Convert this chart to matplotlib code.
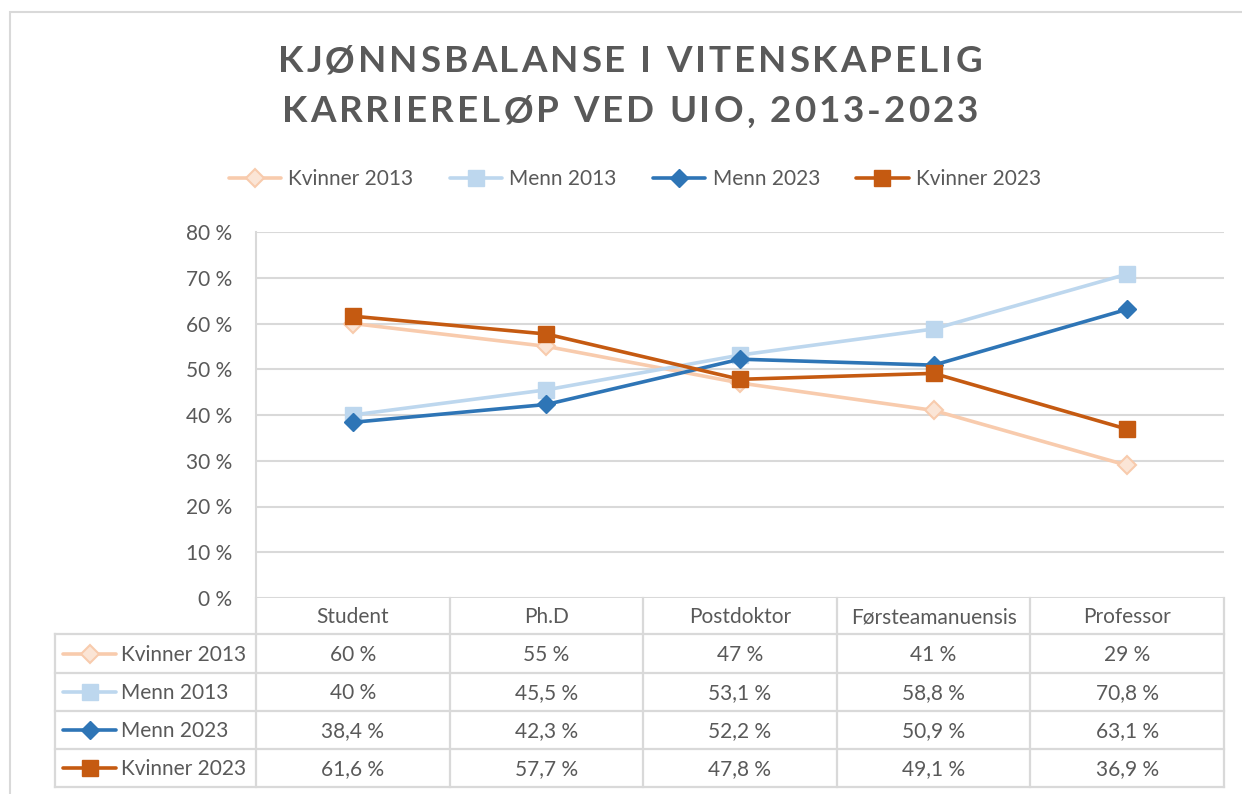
import matplotlib
matplotlib.use("Agg")
import matplotlib.pyplot as plt
from matplotlib.patches import Rectangle
from matplotlib.font_manager import FontProperties

# ---- data ----
categories = ["Student", "Ph.D", "Postdoktor", "Førsteamanuensis", "Professor"]
series_names = ["Kvinner 2013", "Menn 2013", "Menn 2023", "Kvinner 2023"]
kvinner_2013 = [60, 55, 47, 41, 29]
menn_2013 = [40, 45.5, 53.1, 58.8, 70.8]
menn_2023 = [38.4, 42.3, 52.2, 50.9, 63.1]
kvinner_2023 = [61.6, 57.7, 47.8, 49.1, 36.9]
y_ticks = [0, 10, 20, 30, 40, 50, 60, 70, 80]
title_lines = ["KJØNNSBALANSE I VITENSKAPELIG", "KARRIERELØP VED UIO, 2013-2023"]

series_values = [kvinner_2013, menn_2013, menn_2023, kvinner_2023]
styles = [
    dict(color="#F8CBAD", marker="D", mfc="#FBE5D6", mec="#F8CBAD", ms=9.5, mew=1.5),
    dict(color="#BDD7EE", marker="s", mfc="#BDD7EE", mec="#BDD7EE", ms=11),
    dict(color="#2E75B6", marker="D", mfc="#2E75B6", mec="#2E75B6", ms=9.5),
    dict(color="#C55A11", marker="s", mfc="#C55A11", mec="#C55A11", ms=11),
]

W, H = 1242, 794
TXT = "#595959"
GRID = "#D9D9D9"
FONT = "Lato"
FS = 15
plt.rcParams["font.family"] = [FONT, "DejaVu Sans"]

fig = plt.figure(figsize=(W / 100, H / 100), dpi=100)
fig.patch.set_facecolor("white")

# outer chart border
fig.add_artist(Rectangle((10 / W, -0.05), 1.1, 1 - 12 / H + 0.05, transform=fig.transFigure,
                         fill=False, edgecolor=GRID, lw=1.5))

# plot area
L, R, T, B = 256, 1224, 232, 598
ax = fig.add_axes([L / W, 1 - B / H, (R - L) / W, (B - T) / H])
x = list(range(len(categories)))
lines = []
for name, vals, st in zip(series_names, series_values, styles):
    ln, = ax.plot(x, vals, lw=2.6, label=name, zorder=3, solid_capstyle="round", **st)
    lines.append(ln)
ax.set_xlim(-0.5, len(categories) - 0.5)
ax.set_ylim(0, 80)
ax.set_yticks(y_ticks)
ax.set_yticklabels([f"{v} %" for v in y_ticks], fontsize=FS, color=TXT)
ax.set_xticks([])
ax.tick_params(axis="y", length=0, pad=17)
ax.grid(axis="y", color=GRID, lw=1.5)
ax.set_axisbelow(True)
for s in ["top", "right", "bottom"]:
    ax.spines[s].set_visible(False)
ax.spines["left"].set_color(GRID)
ax.spines["left"].set_linewidth(1.5)

# title with letter spacing
renderer = fig.canvas.get_renderer()
tprop = FontProperties(family=FONT, weight="bold", size=26.5)


def text_w(s):
    w, _, _ = renderer.get_text_width_height_descent(s, tprop, ismath=False)
    return w


def tracked_text(s, xc, yc, tracking):
    ref = text_w("X")
    offs = [text_w(s[:i] + "X") - ref if i > 0 else 0.0 for i in range(len(s))]
    total = text_w(s) + tracking * (len(s) - 1)
    x0 = xc - total / 2
    for i, ch in enumerate(s):
        if ch == " ":
            continue
        fig.text((x0 + offs[i] + tracking * i) / W, 1 - yc / H, ch, ha="left", va="center",
                 fontproperties=tprop, color=TXT)


tracked_text(title_lines[0], 630, 62, 3.0)
tracked_text(title_lines[1], 630, 112, 3.0)

# legend
fig.legend(handles=lines, loc="center", bbox_to_anchor=(635 / W, 1 - 179 / H), ncol=4,
           frameon=False, fontsize=FS, handlelength=2.5, handletextpad=0.35,
           columnspacing=1.75, labelcolor=TXT)

# data table
TL, TR, TT, TB = 55, 1224, 598, 788
tax = fig.add_axes([TL / W, 1 - TB / H, (TR - TL) / W, (TB - TT) / H])
tax.set_xlim(TL, TR)
tax.set_ylim(TB, TT)
tax.axis("off")
row_edges = [598, 634, 673, 711, 749, 787]
colw = (R - L) / len(categories)
col_edges = [L + i * colw for i in range(len(categories) + 1)]
lw_t = 1.6
for xe in col_edges:
    tax.plot([xe, xe], [row_edges[0], row_edges[-1]], color=GRID, lw=lw_t, clip_on=False)
tax.plot([TL, TL], [row_edges[1], row_edges[-1]], color=GRID, lw=lw_t, clip_on=False)
for ye in row_edges[1:]:
    tax.plot([TL, TR], [ye, ye], color=GRID, lw=lw_t, clip_on=False)

for i, c in enumerate(categories):
    xc = L + (i + 0.5) * colw
    tax.text(xc, (row_edges[0] + row_edges[1]) / 2 + 1, c, ha="center", va="center",
             fontsize=FS, color=TXT)


def fmt(v):
    if float(v).is_integer():
        return f"{int(v)} %"
    return f"{v:.1f}".replace(".", ",") + " %"


for r, (name, vals, st) in enumerate(zip(series_names, series_values, styles)):
    yc = (row_edges[r + 1] + row_edges[r + 2]) / 2
    tax.plot([63, 116], [yc, yc], color=st["color"], lw=2.6, solid_capstyle="round",
             clip_on=False)
    tax.plot([89.5], [yc], linestyle="none", clip_on=False,
             **{k: v for k, v in st.items() if k != "color"})
    tax.text(121, yc + 1, name, ha="left", va="center", fontsize=FS, color=TXT)
    for i, v in enumerate(vals):
        xc = L + (i + 0.5) * colw
        tax.text(xc, yc + 1, fmt(v), ha="center", va="center", fontsize=FS, color=TXT)

fig.savefig("out.png", dpi=100, facecolor="white")
